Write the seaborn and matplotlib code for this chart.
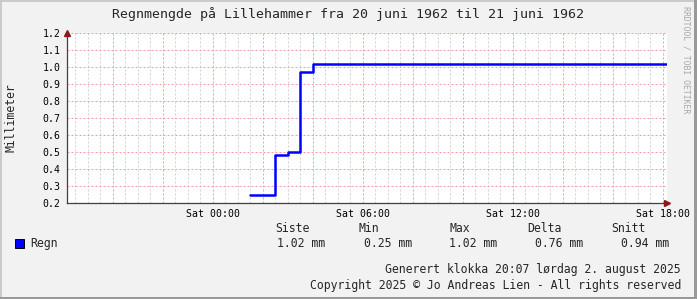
import matplotlib
matplotlib.use("Agg")
import matplotlib.pyplot as plt
import seaborn as sns
import pandas as pd
from matplotlib.ticker import MultipleLocator, FuncFormatter
from matplotlib.patches import Rectangle

# ---- data (hours relative to Sat 00:00) ----
step_hours = [1.5, 2.5, 3.0, 3.5, 4.0, 18.18]
rain_mm = [0.25, 0.48, 0.50, 0.97, 1.02, 1.02]
x_tick_hours = [0, 6, 12, 18]
x_tick_labels = ["Sat 00:00", "Sat 06:00", "Sat 12:00", "Sat 18:00"]
stat_names = ["Siste", "Min", "Max", "Delta", "Snitt"]
stat_values = ["1.02 mm", "0.25 mm", "1.02 mm", "0.76 mm", "0.94 mm"]
series_name = "Regn"
title = "Regnmengde på Lillehammer fra 20 juni 1962 til 21 juni 1962"
y_label = "Millimeter"
footer1 = "Generert klokka 20:07 lørdag 2. august 2025"
footer2 = "Copyright 2025 © Jo Andreas Lien - All rights reserved"
watermark = "RRDTOOL / TOBI OETIKER"

sns.set_style("white")
plt.rcParams["font.family"] = ["DejaVu Sans Mono", "DejaVu Sans"]
plt.rcParams["lines.scale_dashes"] = False

W, H = 697, 299
fig = plt.figure(figsize=(W / 100, H / 100), dpi=100, facecolor="#F2F2F2")

def fx(x):
    return x / W

def fy(y):
    return 1 - y / H

ax = fig.add_axes([fx(67), fy(203), (667 - 67) / W, (203 - 33) / H])
ax.set_facecolor("white")

df = pd.DataFrame({"t": step_hours, "v": rain_mm})
sns.lineplot(data=df, x="t", y="v", ax=ax, color="#0000FF", linewidth=1.8,
             drawstyle="steps-post", zorder=5)

ax.set_xlim(-5.82, 18.18)
ax.set_ylim(0.2, 1.2)
ax.set_xlabel("")
ax.set_ylabel("")

lbl = dict(zip(x_tick_hours, x_tick_labels))
ax.xaxis.set_major_locator(MultipleLocator(2))
ax.xaxis.set_minor_locator(MultipleLocator(0.5))
ax.xaxis.set_major_formatter(FuncFormatter(lambda v, p: lbl.get(int(round(v)), "") if abs(v - round(v)) < 1e-6 else ""))
ax.yaxis.set_major_locator(MultipleLocator(0.1))
ax.yaxis.set_major_formatter(FuncFormatter(lambda v, p: f"{v:.1f}"))

dot = (0, (1.44, 1.44))
ax.grid(which="minor", axis="x", color="#D2D2D2", linestyle=dot, linewidth=0.72)
ax.grid(which="major", axis="both", color="#F0A0A0", linestyle=dot, linewidth=0.72)
ax.set_axisbelow(True)

for s in ["top", "right"]:
    ax.spines[s].set_visible(False)
for s in ["left", "bottom"]:
    ax.spines[s].set_color("#404040")
    ax.spines[s].set_linewidth(0.9)

ax.tick_params(axis="both", which="major", direction="out", length=2.2, width=0.7,
               color="#E08080", labelsize=7.1, labelcolor="black")
ax.tick_params(axis="x", which="minor", direction="out", length=1.5, width=0.7, color="#B0B0B0")
ax.tick_params(axis="y", which="major", pad=2.5)
ax.tick_params(axis="x", which="major", pad=2.2)

# axis arrows
ax.plot([1.0], [0.0], marker=">", color="#8B1A1A", markersize=4.5, transform=ax.transAxes,
        clip_on=False, zorder=6)
ax.plot([0.0], [1.0], marker="^", color="#8B1A1A", markersize=4.5, transform=ax.transAxes,
        clip_on=False, zorder=6)

# texts
fig.text(fx(348), fy(14), title, ha="center", va="center", fontsize=9.55)
fig.text(fx(11), fy(118), y_label, ha="center", va="center", rotation=90, fontsize=8.3)
fig.text(fx(686), fy(60), watermark, ha="center", va="center", rotation=270, fontsize=5.9,
         color="#A8A8A8")

# legend
fig.patches.append(Rectangle((fx(15), fy(248)), 9 / W, 9 / H, transform=fig.transFigure,
                             facecolor="#0000FF", edgecolor="black", linewidth=0.7, figure=fig))
fig.text(fx(30.5), fy(243.5), series_name, ha="left", va="center", fontsize=8.3)
head_x = [275.6, 359, 450, 527.6, 611.6]
val_x = [277, 363.6, 449, 535, 621]
for nm, hx in zip(stat_names, head_x):
    fig.text(fx(hx), fy(228.5), nm, ha="left", va="center", fontsize=8.3)
for vv, vx in zip(stat_values, val_x):
    fig.text(fx(vx), fy(243.5), vv, ha="left", va="center", fontsize=8.3)

fig.text(fx(681), fy(270), footer1, ha="right", va="center", fontsize=8.3)
fig.text(fx(681), fy(285), footer2, ha="right", va="center", fontsize=8.3)

# 3D-ish frame
frame = [((0, 0), 2, H, "#CBCBCB"), ((0, H - 2), W, 2, "#CBCBCB"),
         ((W - 3, 0), 3, H, "#999999"), ((0, 0), W, 2, "#999999")]
for (x0, y0), w, h, c in frame:
    fig.patches.append(Rectangle((x0 / W, y0 / H), w / W, h / H, transform=fig.transFigure,
                                 facecolor=c, edgecolor="none", figure=fig))

fig.savefig("out.png", dpi=100, facecolor=fig.get_facecolor())
